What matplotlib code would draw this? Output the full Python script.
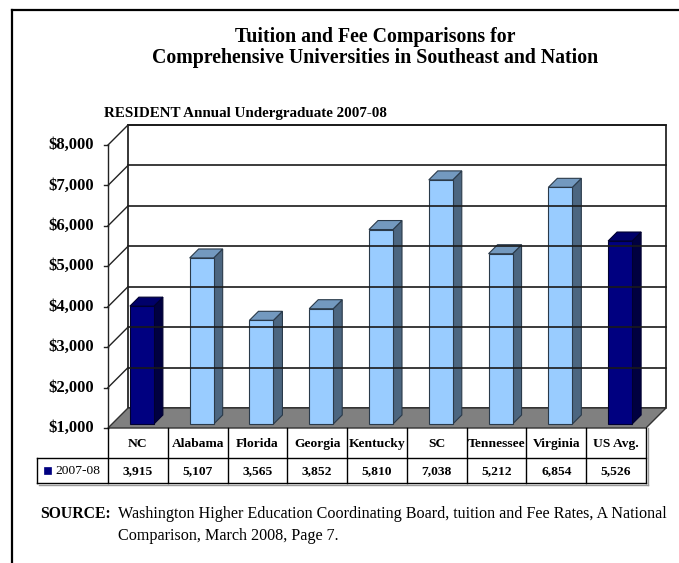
import matplotlib
matplotlib.use("Agg")
import matplotlib.pyplot as plt
from matplotlib.patches import Polygon, Rectangle
from matplotlib.lines import Line2D

plt.rcParams['font.family'] = ['Liberation Serif', 'DejaVu Serif']

# data
states = ["NC", "Alabama", "Florida", "Georgia", "Kentucky", "SC",
          "Tennessee", "Virginia", "US Avg."]
tuition = [3915, 5107, 3565, 3852, 5810, 7038, 5212, 6854, 5526]
dark_bars = ["NC", "US Avg."]
yticks = [1000, 2000, 3000, 4000, 5000, 6000, 7000, 8000]
ytick_labels = ["$1,000", "$2,000", "$3,000", "$4,000", "$5,000",
                "$6,000", "$7,000", "$8,000"]
series_name = "2007-08"

W, H = 679, 563
fig = plt.figure(figsize=(W / 100, H / 100), dpi=100)

def fx(x):
    return x / W

def fy(y):
    return 1 - y / H

# page frame (top and left only)
fig.add_artist(Line2D([fx(12), 1.0], [fy(10), fy(10)], color="black", lw=1.6))
fig.add_artist(Line2D([fx(12), fx(12)], [fy(10), 0.0], color="black", lw=1.6))

fig.text(fx(375), fy(37), "Tuition and Fee Comparisons for", ha="center",
         va="center", fontsize=14.3, fontweight="bold")
fig.text(fx(375), fy(58), "Comprehensive Universities in Southeast and Nation",
         ha="center", va="center", fontsize=14.3, fontweight="bold")
fig.text(fx(104), fy(113), "RESIDENT Annual Undergraduate 2007-08", ha="left",
         va="center", fontsize=10.8, fontweight="bold")

# front plane of the 3D chart
x0, x1, ytop, ybot = 108, 646, 145, 428
ax = fig.add_axes([fx(x0), fy(ybot), fx(x1) - fx(x0), fy(ytop) - fy(ybot)])
n = len(states)
ax.set_xlim(0, n)
ax.set_ylim(yticks[0], yticks[-1])
ax.axis("off")

px_x = n / (x1 - x0)                       # data units per pixel, x
px_y = (yticks[-1] - yticks[0]) / (ybot - ytop)  # per pixel, y
ddx, ddy = 20 * px_x, 20 * px_y           # full depth vector
ymin = yticks[0]

kw = dict(clip_on=False)
# back wall
ax.add_patch(Polygon([(ddx, ymin + ddy), (n + ddx, ymin + ddy),
                      (n + ddx, yticks[-1] + ddy), (ddx, yticks[-1] + ddy)],
                     closed=True, fc="white", ec="black", lw=1.1, **kw))
for t in yticks[1:]:
    ax.plot([ddx, n + ddx], [t + ddy, t + ddy], color="#1a1a1a", lw=1.2, **kw)
    ax.plot([0, ddx], [t, t + ddy], color="#222222", lw=1.0, **kw)
ax.plot([0, 0], [ymin, yticks[-1]], color="#222222", lw=1.0, **kw)
for t in yticks:
    ax.plot([-4 * px_x, 0], [t, t], color="#222222", lw=1.0, **kw)
    ax.text(-14 * px_x, t, ytick_labels[yticks.index(t)], ha="right",
            va="center", fontsize=12, fontweight="bold")

# floor
ax.add_patch(Polygon([(0, ymin), (n, ymin), (n + ddx, ymin + ddy),
                      (ddx, ymin + ddy)], closed=True, fc="#808080",
                     ec="#333333", lw=1.0, **kw))

# bars
d0 = 0.2
bd = 0.45
half = 12 * px_x
for i, (s, v) in enumerate(zip(states, tuition)):
    if s in dark_bars:
        cf, ct, cs, ce = "#000080", "#00006a", "#000040", "#000030"
    else:
        cf, ct, cs, ce = "#99ccff", "#7399bf", "#4c6680", "#2a3a4a"
    cx = i + 0.5 + d0 * ddx
    xa, xb = cx - half, cx + half
    yb, yt = ymin + d0 * ddy, v + d0 * ddy
    bx, by = bd * ddx, bd * ddy
    ax.add_patch(Polygon([(xb, yb), (xb + bx, yb + by), (xb + bx, yt + by),
                          (xb, yt)], closed=True, fc=cs, ec=ce, lw=0.8, **kw))
    ax.add_patch(Polygon([(xa, yt), (xb, yt), (xb + bx, yt + by),
                          (xa + bx, yt + by)], closed=True, fc=ct, ec=ce,
                         lw=0.8, **kw))
    ax.add_patch(Rectangle((xa, yb), xb - xa, yt - yb, fc=cf, ec=ce, lw=0.8,
                           **kw))

# data table under the chart
r1, r2 = 458, 483       # pixel rows
def ty(p):
    return ymin - (p - ybot) * px_y
left = (37 - x0) * px_x
ax.plot([left, n], [ty(r1), ty(r1)], color="black", lw=1.0, **kw)
ax.plot([left, n], [ty(r2), ty(r2)], color="black", lw=1.0, **kw)
ax.plot([left + 2 * px_x, n + 2 * px_x], [ty(r2 + 2), ty(r2 + 2)],
        color="#999999", lw=1.0, **kw)
ax.plot([left, left], [ty(r1), ty(r2)], color="black", lw=1.0, **kw)
for k in range(n + 1):
    ax.plot([k, k], [ymin, ty(r2)], color="black", lw=1.0, **kw)
ax.plot([n + 2 * px_x, n + 2 * px_x], [ymin, ty(r2 + 2)], color="#999999",
        lw=1.0, **kw)
for i, (s, v) in enumerate(zip(states, tuition)):
    ax.text(i + 0.5, ty((ybot + r1) / 2 + 1), s, ha="center", va="center",
            fontsize=9.7, fontweight="bold")
    ax.text(i + 0.5, ty((r1 + r2) / 2 + 1), f"{v:,}", ha="center",
            va="center", fontsize=9.7, fontweight="bold")
ax.add_patch(Rectangle((left + 7 * px_x, ty(474)), 7 * px_x, 7 * px_y,
                       fc="#000080", ec="#000080", lw=0.5, **kw))
ax.text(left + 18 * px_x, ty((r1 + r2) / 2 + 1), series_name, ha="left",
        va="center", fontsize=9.7)

# source note
fig.text(fx(40), fy(514), "SOURCE:", ha="left", va="center", fontsize=11.3,
         fontweight="bold")
fig.text(fx(118), fy(514), "Washington Higher Education Coordinating Board, "
         "tuition and Fee Rates, A National", ha="left", va="center",
         fontsize=11.6)
fig.text(fx(118), fy(536), "Comparison, March 2008, Page 7.", ha="left",
         va="center", fontsize=11.6)

fig.savefig("out.png", dpi=100)
